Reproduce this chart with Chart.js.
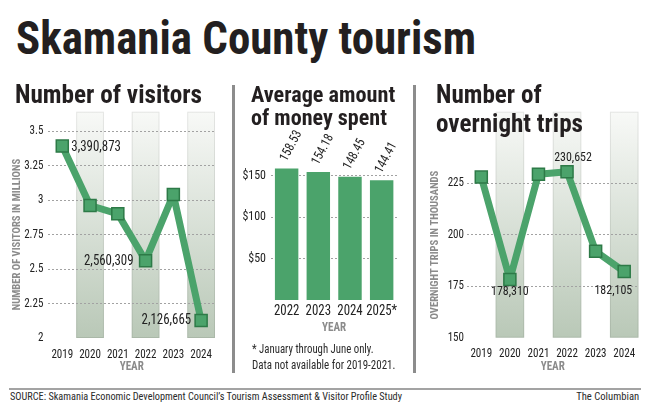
<!DOCTYPE html>
<html><head><meta charset="utf-8">
<script src="https://cdn.jsdelivr.net/npm/chart.js@4.4.0/dist/chart.umd.min.js"></script>
<style>
html,body{margin:0;padding:0;background:#fff;}
#root{position:relative;width:650px;height:413px;overflow:hidden;background:#fff;}
canvas{position:absolute;}
.t{position:absolute;white-space:nowrap;line-height:1.2;z-index:5;}
.rule{position:absolute;background:#8c8c8c;z-index:4;}
</style></head><body><div id="root">
<canvas id="c1" width="225" height="280" style="left:0;top:100px;width:225px;height:280px"></canvas>
<canvas id="c2" width="180" height="280" style="left:233px;top:100px;width:180px;height:280px"></canvas>
<canvas id="c3" width="237" height="280" style="left:413px;top:100px;width:237px;height:280px"></canvas>
<div class="rule" style="left:232px;top:85px;width:3px;height:288px"></div>
<div class="rule" style="left:413px;top:85px;width:3px;height:288px"></div>
<div class="rule" style="left:9px;top:388px;width:632px;height:2px;background:#a3a3a3"></div>
<div class="t" data-x="16" data-b="54" data-w="460" data-s="46" data-wt="bold" data-c="#231f20">Skamania County tourism</div>
<div class="t" data-x="15" data-b="103.3" data-w="187" data-s="25" data-wt="bold" data-c="#231f20">Number of visitors</div>
<div class="t" data-x="250.7" data-b="101.7" data-w="144.3" data-s="22" data-wt="bold" data-c="#231f20">Average amount</div>
<div class="t" data-x="250.7" data-b="125" data-w="136" data-s="22" data-wt="bold" data-c="#231f20">of money spent</div>
<div class="t" data-x="436" data-b="103.3" data-w="105.7" data-s="25" data-wt="bold" data-c="#231f20">Number of</div>
<div class="t" data-x="436" data-b="131.7" data-w="147" data-s="25" data-wt="bold" data-c="#231f20">overnight trips</div>
<div class="t" data-x="251.7" data-b="353.3" data-w="121.6" data-s="12" data-c="#2a2a2a">* January through June only.</div>
<div class="t" data-x="251.7" data-b="369" data-w="143.3" data-s="12" data-c="#2a2a2a">Data not available for 2019-2021.</div>
<div class="t" data-x="10" data-b="400" data-w="392" data-s="11" data-c="#2a2a2a">SOURCE: Skamania Economic Development Council’s Tourism Assessment &amp; Visitor Profile Study</div>
<div class="t" data-x="639" data-b="400" data-w="63" data-s="11" data-a="right" data-c="#2a2a2a">The Columbian</div>
</div>
<script>
// ---- data ----
const years = ['2019', '2020', '2021', '2022', '2023', '2024'];
const visitors = [3.390873, 2.96, 2.90, 2.560309, 3.04, 2.126665];   // millions
const visitorTicks = [2, 2.25, 2.5, 2.75, 3, 3.25, 3.5];
const spendYears = ['2022', '2023', '2024', '2025*'];
const spend = [158.53, 154.18, 148.45, 144.41];                      // dollars
const spendTicks = [50, 100, 150];
const trips = [228, 178.310, 229.4, 230.652, 192, 182.105];          // thousands
const tripTicks = [150, 175, 200, 225];

// ---- font pick ----
function hasFont(name) {
  const c = document.createElement('canvas').getContext('2d');
  const s = 'mmmmmmmmmmlliWW0123456789';
  return ['monospace', 'serif', 'sans-serif'].some(b => {
    c.font = '72px ' + b; const w0 = c.measureText(s).width;
    c.font = '72px "' + name + '", ' + b; return c.measureText(s).width !== w0;
  });
}
const cands = ['Roboto Condensed', 'Liberation Sans Narrow', 'DejaVu Sans Condensed', 'Open Sans Condensed', 'Arial Narrow'];
let picked = cands.find(hasFont);
const NARROW = !!picked;
if (!picked) picked = 'Liberation Sans';
const FONT = '"' + picked + '", "Liberation Sans", Arial, sans-serif';

// condense canvas text when no narrow face is installed
const K = NARROW ? 0.92 : 0.8;
(function () {
  const P = CanvasRenderingContext2D.prototype, of = P.fillText;
  P.fillText = function (t, x, y, mw) {
    this.save(); this.translate(x, y); this.scale(K, 1);
    of.call(this, t, 0, 0); this.restore();
  };
})();

// ---- html text placement ----
document.querySelectorAll('.t').forEach(el => {
  const d = el.dataset;
  el.style.fontFamily = FONT; el.style.fontSize = d.s + 'px';
  el.style.fontWeight = d.wt || 'normal'; el.style.color = d.c || '#222';
  el.style.left = '0px'; el.style.top = '0px';
  const m = document.createElement('span');
  m.style.cssText = 'display:inline-block;width:0;height:0;vertical-align:baseline';
  el.appendChild(m);
  const r = el.getBoundingClientRect();
  const base = m.getBoundingClientRect().top - r.top;
  const nat = r.width, k = (+d.w) / nat;
  const right = d.a === 'right';
  el.style.transformOrigin = right ? 'right top' : 'left top';
  el.style.transform = 'scaleX(' + k + ')';
  el.style.left = (right ? (+d.x - nat) : +d.x) + 'px';
  el.style.top = (+d.b - base) + 'px';
});

// ---- chart helpers ----
const GREEN = '#4ba36b', DARK = '#2d7a47', GRID = '#a2a2a2', AXT = '#8b8b8b', TXT = '#222';
Chart.defaults.font.family = FONT;
Chart.defaults.color = TXT;
Chart.defaults.animation = false;
Chart.defaults.events = [];

const bandPlugin = {
  id: 'bands',
  beforeDraw(chart, args, o) {
    if (!o.indices) return;
    const { ctx, chartArea } = chart, x = chart.scales.x;
    const step = x.getPixelForValue(1) - x.getPixelForValue(0);
    ctx.save();
    o.indices.forEach(i => {
      const l = x.getPixelForValue(i) - step / 2, top = o.top, bot = chartArea.bottom;
      const g = ctx.createLinearGradient(0, top, 0, bot);
      g.addColorStop(0, '#f8f9f7'); g.addColorStop(1, '#b9c8b7');
      ctx.fillStyle = g; ctx.fillRect(l, top, step, bot - top);
      ctx.strokeStyle = 'rgba(0,0,0,0.08)'; ctx.lineWidth = 1;
      ctx.strokeRect(l + 0.5, top + 0.5, step - 1, bot - top - 1);
    });
    ctx.restore();
  }
};
const labelPlugin = {
  id: 'vlabels',
  afterDatasetsDraw(chart, args, o) {
    if (!o.items) return;
    const meta = chart.getDatasetMeta(0), ctx = chart.ctx, data = chart.data.datasets[0].data;
    ctx.save();
    ctx.font = o.size + 'px ' + FONT; ctx.fillStyle = o.color || TXT; ctx.textBaseline = 'middle';
    o.items.forEach(it => {
      const el = meta.data[it.i], txt = o.format(data[it.i]);
      ctx.textAlign = it.align;
      ctx.save(); ctx.translate(el.x + it.dx, el.y + it.dy);
      if (o.rotate) ctx.rotate(o.rotate);
      ctx.fillText(txt, 0, 0); ctx.restore();
    });
    ctx.restore();
  }
};
Chart.register(bandPlugin, labelPlugin);

function yTitle(text, pad, size) {
  return { display: true, text, color: AXT, font: { size, weight: 'bold' }, padding: { top: pad, bottom: 0 } };
}
function xTitle(pad) {
  return { display: true, text: 'YEAR', color: AXT, font: { size: 12, weight: 'bold' }, padding: { top: 0, bottom: pad } };
}
const xTicks = (pad, size) => ({ padding: pad, font: { size }, color: TXT, maxRotation: 0, minRotation: 0, autoSkip: false });
const xGrid = { display: false, drawTicks: false };
const fmtInt = v => Math.round(v).toLocaleString('en-US');

// ---- chart 1: visitors ----
new Chart(document.getElementById('c1'), {
  type: 'line',
  data: { labels: years, datasets: [{
    data: visitors, borderColor: GREEN, borderWidth: 7, tension: 0, clip: false, borderJoinStyle: 'round',
    pointStyle: 'rect', pointRadius: 8.5, pointBackgroundColor: GREEN, pointBorderColor: DARK, pointBorderWidth: 1.5
  }] },
  options: {
    responsive: false,
    layout: { padding: { left: 6, right: 4.4, top: 31, bottom: 0 } },
    plugins: {
      legend: { display: false }, tooltip: { enabled: false },
      bands: { indices: [1, 3, 5], top: 11.7 },
      vlabels: { size: 14, format: v => fmtInt(v * 1e6), items: [
        { i: 0, dx: 9, dy: 1, align: 'left' },
        { i: 3, dx: -12, dy: 1, align: 'right' },
        { i: 5, dx: -10, dy: 0, align: 'right' }] }
    },
    scales: {
      x: { offset: true, grid: xGrid, border: { display: false },
        ticks: xTicks(9.5, 12), title: xTitle(5.5),
        afterFit(a) { a.height = 42; } },
      y: { min: 2, max: 3.5,
        afterBuildTicks(a) { a.ticks = visitorTicks.map(v => ({ value: v })); },
        grid: { drawTicks: false, lineWidth: 1, color: c => (c.tick && c.tick.value === 2) ? 'rgba(0,0,0,0)' : GRID },
        border: { display: false, dash: [2, 2] },
        ticks: { padding: 5, font: { size: 12 }, color: TXT, callback: v => String(v) },
        title: yTitle('NUMBER OF VISITORS IN MILLIONS', 4, 11.5),
        afterFit(a) { a.width = 42.4; } }
    }
  }
});

// ---- chart 2: spending ----
new Chart(document.getElementById('c2'), {
  type: 'bar',
  data: { labels: spendYears, datasets: [{ data: spend, backgroundColor: GREEN, barPercentage: 0.74, categoryPercentage: 1 }] },
  options: {
    responsive: false,
    layout: { padding: { left: 0, right: 15.5, top: 54.75, bottom: 44 } },
    plugins: {
      legend: { display: false }, tooltip: { enabled: false },
      vlabels: { size: 13, rotate: -62 * Math.PI / 180, format: v => v.toFixed(2), items: spend.map((v, i) => ({ i, dx: -3, dy: -8, align: 'left' })) }
    },
    scales: {
      x: { grid: xGrid, border: { display: false },
        ticks: xTicks(3.5, 14), title: xTitle(1),
        afterFit(a) { a.height = 36; } },
      y: { min: 0, max: 175,
        afterBuildTicks(a) { a.ticks = spendTicks.map(v => ({ value: v })); },
        grid: { drawTicks: false, lineWidth: 1, color: GRID },
        border: { display: false, dash: [2, 2] },
        ticks: { padding: 4.8, font: { size: 13 }, color: TXT, callback: v => '$' + v },
        afterFit(a) { a.width = 37.8; } }
    }
  }
});

// ---- chart 3: overnight trips ----
new Chart(document.getElementById('c3'), {
  type: 'line',
  data: { labels: years, datasets: [{
    data: trips, borderColor: GREEN, borderWidth: 7, tension: 0, clip: false, borderJoinStyle: 'round',
    pointStyle: 'rect', pointRadius: 8.5, pointBackgroundColor: GREEN, pointBorderColor: DARK, pointBorderWidth: 1.5
  }] },
  options: {
    responsive: false,
    layout: { padding: { left: 8, right: 11.5, top: 52.4, bottom: 0 } },
    plugins: {
      legend: { display: false }, tooltip: { enabled: false },
      bands: { indices: [1, 3, 5], top: 11.7 },
      vlabels: { size: 13, format: v => fmtInt(v * 1000), items: [
        { i: 1, dx: 0, dy: 12, align: 'center' },
        { i: 3, dx: 6, dy: -14, align: 'center' },
        { i: 5, dx: 8, dy: 19, align: 'right' }] }
    },
    scales: {
      x: { offset: true, grid: xGrid, border: { display: false },
        ticks: xTicks(9.5, 12), title: xTitle(5.5),
        afterFit(a) { a.height = 42.3; } },
      y: { min: 150, max: 240,
        afterBuildTicks(a) { a.ticks = tripTicks.map(v => ({ value: v })); },
        grid: { drawTicks: false, lineWidth: 1, color: c => (c.tick && c.tick.value === 150) ? 'rgba(0,0,0,0)' : GRID },
        border: { display: false, dash: [2, 2] },
        ticks: { padding: 3, font: { size: 12 }, color: TXT },
        title: yTitle('OVERNIGHT TRIPS IN THOUSANDS', 7, 11.5),
        afterFit(a) { a.width = 46; } }
    }
  }
});
</script>
</body></html>
